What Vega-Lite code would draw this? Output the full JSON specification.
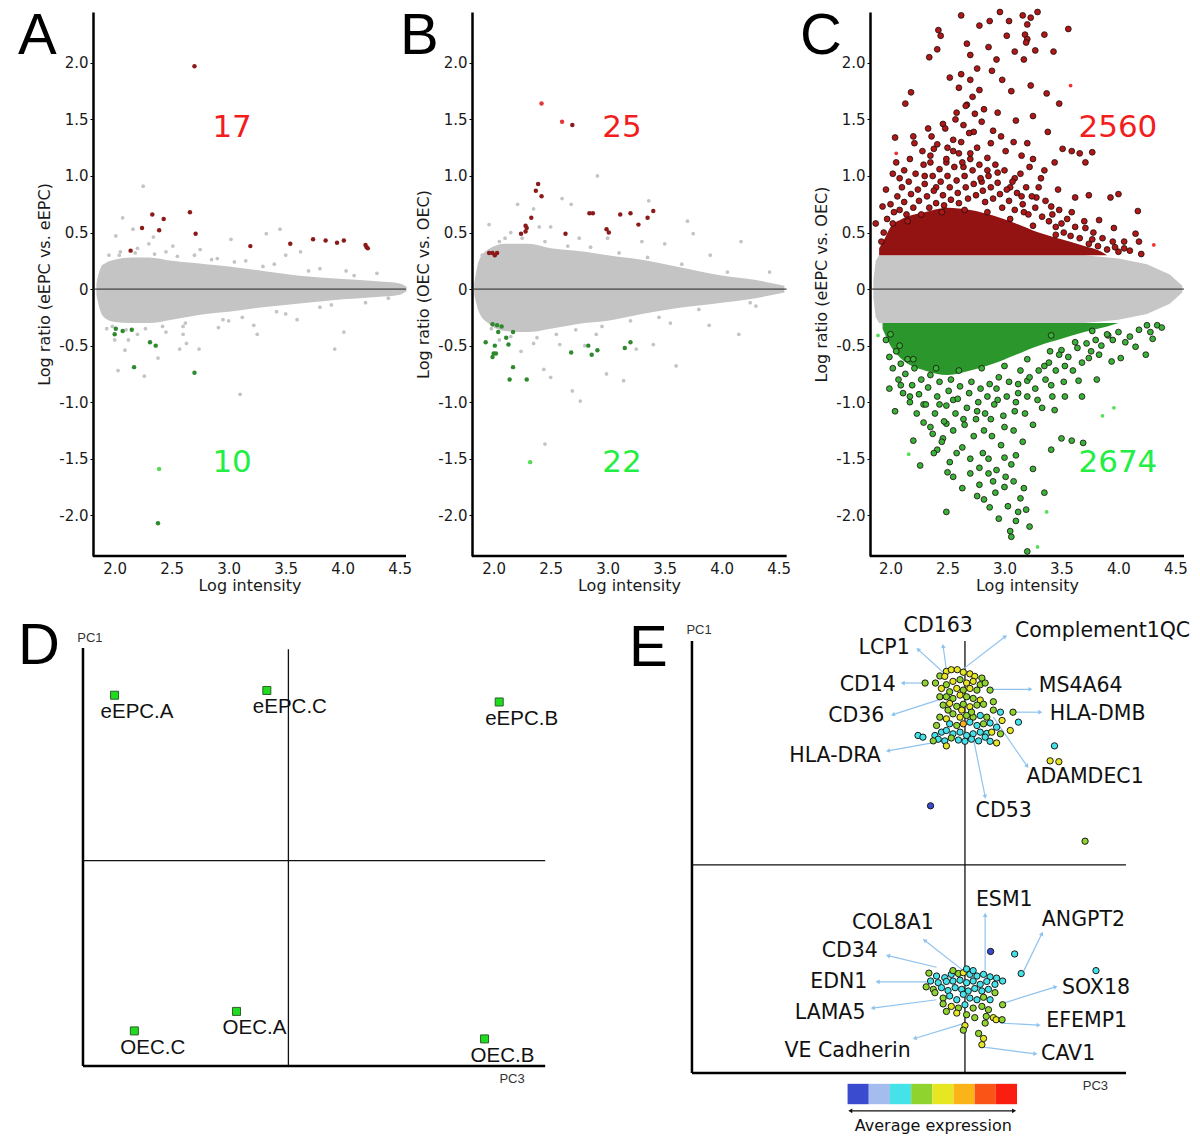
{
"$schema":"https://vega.github.io/schema/vega-lite/v6.json",
"autosize":{"type":"pad"},
"padding":{"left":18,"top":7,"right":0,"bottom":0},
"background":"white",
"config":{
 "view":{"stroke":null},
 "font":"DejaVu Sans",
 "axis":{"grid":false,"labelFont":"DejaVu Sans","titleFont":"DejaVu Sans","labelColor":"#1a1a1a","titleColor":"#1a1a1a","titleFontWeight":"normal"},
 "title":{"anchor":"start","frame":"group","offset":0,"baseline":"alphabetic","fontSize":58,"font":"Liberation Sans","fontWeight":"normal","color":"#000"},
 "text":{"font":"DejaVu Sans"}
},
"datasets":{
 "A_band":[{"x":1.84,"hi":0.05,"lo":-0.05},{"x":1.87,"hi":0.17,"lo":-0.18},{"x":1.92,"hi":0.23,"lo":-0.26},{"x":2.0,"hi":0.26,"lo":-0.29},{"x":2.15,"hi":0.28,"lo":-0.3},{"x":2.3,"hi":0.28,"lo":-0.3},{"x":2.5,"hi":0.25,"lo":-0.27},{"x":2.8,"hi":0.22,"lo":-0.22},{"x":3.0,"hi":0.2,"lo":-0.2},{"x":3.3,"hi":0.16,"lo":-0.16},{"x":3.6,"hi":0.12,"lo":-0.13},{"x":4.0,"hi":0.09,"lo":-0.09},{"x":4.3,"hi":0.07,"lo":-0.07},{"x":4.5,"hi":0.05,"lo":-0.05},{"x":4.56,"hi":0.02,"lo":-0.02}],
 "A_pts":[
  {"x":2.70,"y":1.97,"t":"u"},{"x":2.14,"y":0.34,"t":"u"},{"x":2.24,"y":0.54,"t":"u"},{"x":2.33,"y":0.66,"t":"u"},{"x":2.39,"y":0.52,"t":"u"},{"x":2.43,"y":0.62,"t":"u"},{"x":2.66,"y":0.68,"t":"u"},{"x":2.71,"y":0.49,"t":"u"},{"x":3.19,"y":0.38,"t":"u"},{"x":3.54,"y":0.40,"t":"u"},{"x":3.74,"y":0.44,"t":"u"},{"x":3.85,"y":0.43,"t":"u"},{"x":3.95,"y":0.41,"t":"u"},{"x":4.01,"y":0.43,"t":"u"},{"x":4.20,"y":0.39,"t":"u"},{"x":4.21,"y":0.37,"t":"u"},{"x":4.22,"y":0.36,"t":"u"},
  {"x":2.01,"y":-0.35,"t":"d"},{"x":2.00,"y":-0.40,"t":"d"},{"x":2.07,"y":-0.37,"t":"d"},{"x":2.15,"y":-0.36,"t":"d"},{"x":2.31,"y":-0.47,"t":"d"},{"x":2.36,"y":-0.50,"t":"d"},{"x":2.17,"y":-0.69,"t":"d"},{"x":2.70,"y":-0.74,"t":"d"},{"x":2.38,"y":-2.07,"t":"d"},{"x":2.39,"y":-1.59,"t":"df"},
  {"x":2.25,"y":0.91,"t":"g"},{"x":2.07,"y":0.63,"t":"g"},{"x":2.01,"y":0.47,"t":"g"},{"x":2.16,"y":0.53,"t":"g"},{"x":2.34,"y":0.46,"t":"g"},{"x":2.51,"y":0.38,"t":"g"},{"x":3.02,"y":0.44,"t":"g"},{"x":3.33,"y":0.49,"t":"g"},{"x":3.45,"y":0.53,"t":"g"},{"x":3.63,"y":0.33,"t":"g"},{"x":4.03,"y":0.16,"t":"g"},{"x":4.30,"y":0.14,"t":"g"},{"x":3.10,"y":-0.93,"t":"g"},{"x":4.01,"y":-0.38,"t":"g"},{"x":3.93,"y":-0.53,"t":"g"},{"x":2.03,"y":-0.72,"t":"g"},{"x":2.26,"y":-0.77,"t":"g"},{"x":2.38,"y":-0.61,"t":"g"},{"x":2.57,"y":-0.53,"t":"g"},{"x":2.74,"y":-0.53,"t":"g"},{"x":2.09,"y":-0.54,"t":"g"},{"x":2.91,"y":-0.34,"t":"g"},{"x":3.22,"y":-0.32,"t":"g"},{"x":3.60,"y":-0.27,"t":"g"},{"x":2.63,"y":-0.48,"t":"g"},{"x":1.95,"y":0.30,"t":"g"},{"x":2.05,"y":0.33,"t":"g"},{"x":2.20,"y":0.36,"t":"g"},{"x":2.45,"y":0.33,"t":"g"},{"x":2.70,"y":0.30,"t":"g"},{"x":2.90,"y":0.27,"t":"g"},{"x":3.15,"y":0.25,"t":"g"},{"x":3.40,"y":0.22,"t":"g"},{"x":3.80,"y":0.18,"t":"g"},{"x":2.60,"y":-0.33,"t":"g"},{"x":2.20,"y":-0.40,"t":"g"},{"x":2.45,"y":-0.38,"t":"g"},{"x":3.00,"y":-0.28,"t":"g"},{"x":3.50,"y":-0.22,"t":"g"},{"x":3.80,"y":-0.16,"t":"g"},{"x":4.20,"y":-0.12,"t":"g"},{"x":1.93,"y":-0.35,"t":"g"},{"x":2.75,"y":0.35,"t":"g"},{"x":3.25,"y":-0.40,"t":"g"},{"x":2.12,"y":-0.45,"t":"g"},
  {"x":1.90,"y":0.20,"t":"g"},{"x":1.98,"y":-0.33,"t":"g"},{"x":2.04,"y":0.30,"t":"g"},{"x":2.10,"y":-0.36,"t":"g"},{"x":2.18,"y":0.32,"t":"g"},{"x":2.27,"y":-0.35,"t":"g"},{"x":2.35,"y":0.31,"t":"g"},{"x":2.42,"y":-0.33,"t":"g"},{"x":2.55,"y":0.29,"t":"g"},{"x":2.62,"y":-0.30,"t":"g"},{"x":2.85,"y":0.26,"t":"g"},{"x":2.95,"y":-0.27,"t":"g"},{"x":3.05,"y":0.24,"t":"g"},{"x":3.12,"y":-0.25,"t":"g"},{"x":3.30,"y":0.20,"t":"g"},{"x":3.42,"y":-0.20,"t":"g"},{"x":3.70,"y":0.16,"t":"g"},{"x":3.90,"y":-0.14,"t":"g"},{"x":4.10,"y":0.12,"t":"g"},{"x":4.40,"y":-0.08,"t":"g"},{"x":2.30,"y":0.40,"t":"g"},{"x":2.60,"y":-0.40,"t":"g"},{"x":2.00,"y":-0.45,"t":"g"},{"x":3.50,"y":0.30,"t":"g"}
 ],
 "B_band":[{"x":1.83,"hi":0.05,"lo":-0.05},{"x":1.87,"hi":0.25,"lo":-0.2},{"x":1.95,"hi":0.35,"lo":-0.3},{"x":2.1,"hi":0.4,"lo":-0.37},{"x":2.3,"hi":0.4,"lo":-0.38},{"x":2.5,"hi":0.36,"lo":-0.35},{"x":2.8,"hi":0.33,"lo":-0.3},{"x":3.0,"hi":0.3,"lo":-0.28},{"x":3.3,"hi":0.26,"lo":-0.22},{"x":3.6,"hi":0.2,"lo":-0.17},{"x":4.0,"hi":0.12,"lo":-0.12},{"x":4.3,"hi":0.08,"lo":-0.08},{"x":4.55,"hi":0.03,"lo":-0.03}],
 "B_pts":[
  {"x":2.69,"y":1.45,"t":"u"},{"x":2.39,"y":0.93,"t":"u"},{"x":2.37,"y":0.87,"t":"u"},{"x":2.42,"y":0.82,"t":"u"},{"x":2.33,"y":0.63,"t":"u"},{"x":2.28,"y":0.56,"t":"u"},{"x":2.29,"y":0.54,"t":"u"},{"x":2.24,"y":0.49,"t":"u"},{"x":2.28,"y":0.51,"t":"u"},{"x":2.63,"y":0.49,"t":"u"},{"x":1.96,"y":0.32,"t":"u"},{"x":1.99,"y":0.32,"t":"u"},{"x":2.01,"y":0.30,"t":"u"},{"x":2.03,"y":0.32,"t":"u"},{"x":2.84,"y":0.67,"t":"u"},{"x":2.87,"y":0.67,"t":"u"},{"x":2.99,"y":0.53,"t":"u"},{"x":3.01,"y":0.50,"t":"u"},{"x":3.11,"y":0.66,"t":"u"},{"x":3.20,"y":0.67,"t":"u"},{"x":3.27,"y":0.57,"t":"u"},{"x":3.35,"y":0.63,"t":"u"},{"x":3.40,"y":0.69,"t":"u"},{"x":2.42,"y":1.64,"t":"uf"},{"x":2.60,"y":1.48,"t":"uf"},
  {"x":1.99,"y":-0.31,"t":"d"},{"x":2.03,"y":-0.32,"t":"d"},{"x":2.07,"y":-0.33,"t":"d"},{"x":2.04,"y":-0.38,"t":"d"},{"x":2.11,"y":-0.43,"t":"d"},{"x":2.17,"y":-0.38,"t":"d"},{"x":1.93,"y":-0.47,"t":"d"},{"x":2.01,"y":-0.50,"t":"d"},{"x":2.13,"y":-0.49,"t":"d"},{"x":2.02,"y":-0.57,"t":"d"},{"x":2.00,"y":-0.57,"t":"d"},{"x":1.99,"y":-0.60,"t":"d"},{"x":2.17,"y":-0.69,"t":"d"},{"x":2.14,"y":-0.80,"t":"d"},{"x":2.29,"y":-0.80,"t":"d"},{"x":2.68,"y":-0.56,"t":"d"},{"x":2.83,"y":-0.50,"t":"d"},{"x":2.86,"y":-0.58,"t":"d"},{"x":2.91,"y":-0.54,"t":"d"},{"x":3.15,"y":-0.52,"t":"d"},{"x":3.20,"y":-0.47,"t":"d"},{"x":2.32,"y":-1.53,"t":"df"},
  {"x":2.91,"y":1.00,"t":"g"},{"x":2.60,"y":0.80,"t":"g"},{"x":2.68,"y":0.75,"t":"g"},{"x":2.21,"y":0.75,"t":"g"},{"x":1.96,"y":0.57,"t":"g"},{"x":2.35,"y":0.71,"t":"g"},{"x":3.36,"y":0.78,"t":"g"},{"x":3.70,"y":0.60,"t":"g"},{"x":3.75,"y":0.49,"t":"g"},{"x":4.17,"y":0.42,"t":"g"},{"x":4.42,"y":0.15,"t":"g"},{"x":3.60,"y":-0.68,"t":"g"},{"x":3.14,"y":-0.81,"t":"g"},{"x":2.99,"y":-0.75,"t":"g"},{"x":2.76,"y":-0.99,"t":"g"},{"x":2.69,"y":-0.90,"t":"g"},{"x":2.45,"y":-1.37,"t":"g"},{"x":2.50,"y":-0.78,"t":"g"},{"x":2.44,"y":-0.71,"t":"g"},{"x":3.89,"y":-0.32,"t":"g"},{"x":4.15,"y":-0.40,"t":"g"},{"x":2.24,"y":-0.55,"t":"g"},{"x":2.58,"y":-0.49,"t":"g"},{"x":3.25,"y":-0.53,"t":"g"},{"x":3.40,"y":-0.49,"t":"g"},{"x":2.15,"y":0.50,"t":"g"},{"x":2.50,"y":0.55,"t":"g"},{"x":3.00,"y":0.45,"t":"g"},{"x":3.50,"y":0.40,"t":"g"},{"x":3.90,"y":0.30,"t":"g"},{"x":2.05,"y":-0.45,"t":"g"},{"x":2.35,"y":-0.48,"t":"g"},{"x":2.90,"y":-0.40,"t":"g"},{"x":3.55,"y":-0.30,"t":"g"},{"x":4.30,"y":-0.15,"t":"g"},{"x":2.10,"y":0.45,"t":"g"},{"x":2.75,"y":0.45,"t":"g"},
  {"x":1.90,"y":0.30,"t":"g"},{"x":1.98,"y":-0.35,"t":"g"},{"x":2.05,"y":0.42,"t":"g"},{"x":2.15,"y":-0.42,"t":"g"},{"x":2.25,"y":0.45,"t":"g"},{"x":2.38,"y":-0.43,"t":"g"},{"x":2.45,"y":0.42,"t":"g"},{"x":2.55,"y":-0.40,"t":"g"},{"x":2.65,"y":0.38,"t":"g"},{"x":2.72,"y":-0.36,"t":"g"},{"x":2.85,"y":0.37,"t":"g"},{"x":2.95,"y":-0.33,"t":"g"},{"x":3.10,"y":0.32,"t":"g"},{"x":3.20,"y":-0.28,"t":"g"},{"x":3.35,"y":0.28,"t":"g"},{"x":3.45,"y":-0.25,"t":"g"},{"x":3.65,"y":0.22,"t":"g"},{"x":3.80,"y":-0.18,"t":"g"},{"x":4.05,"y":0.15,"t":"g"},{"x":4.25,"y":-0.12,"t":"g"},{"x":2.40,"y":0.55,"t":"g"},{"x":2.80,"y":-0.50,"t":"g"},{"x":3.30,"y":0.42,"t":"g"}
 ],
 "C_band":[{"x":1.85,"hi":0.08,"lo":-0.08},{"x":1.87,"hi":0.25,"lo":-0.25},{"x":1.9,"hi":0.3,"lo":-0.3},{"x":3.7,"hi":0.3,"lo":-0.3},{"x":4.0,"hi":0.27,"lo":-0.27},{"x":4.25,"hi":0.22,"lo":-0.22},{"x":4.45,"hi":0.13,"lo":-0.13},{"x":4.56,"hi":0.03,"lo":-0.03}],
 "C_up":[{"x":1.9,"lo":0.3,"hi":0.36},{"x":1.95,"lo":0.3,"hi":0.45},{"x":2.0,"lo":0.3,"hi":0.55},{"x":2.1,"lo":0.3,"hi":0.62},{"x":2.3,"lo":0.3,"hi":0.68},{"x":2.5,"lo":0.3,"hi":0.72},{"x":2.7,"lo":0.3,"hi":0.7},{"x":2.9,"lo":0.3,"hi":0.65},{"x":3.1,"lo":0.3,"hi":0.58},{"x":3.3,"lo":0.3,"hi":0.5},{"x":3.5,"lo":0.3,"hi":0.44},{"x":3.7,"lo":0.3,"hi":0.38},{"x":3.85,"lo":0.3,"hi":0.33},{"x":3.9,"lo":0.3,"hi":0.3}],
 "C_dn":[{"x":1.93,"hi":-0.3,"lo":-0.35},{"x":2.0,"hi":-0.3,"lo":-0.5},{"x":2.1,"hi":-0.3,"lo":-0.62},{"x":2.3,"hi":-0.3,"lo":-0.72},{"x":2.5,"hi":-0.3,"lo":-0.76},{"x":2.7,"hi":-0.3,"lo":-0.72},{"x":2.9,"hi":-0.3,"lo":-0.66},{"x":3.1,"hi":-0.3,"lo":-0.58},{"x":3.3,"hi":-0.3,"lo":-0.5},{"x":3.5,"hi":-0.3,"lo":-0.44},{"x":3.7,"hi":-0.3,"lo":-0.38},{"x":3.9,"hi":-0.3,"lo":-0.33},{"x":4.0,"hi":-0.3,"lo":-0.3}],
 "C_pts":[
  {"x":2.62,"y":2.42,"t":"u"},{"x":2.96,"y":2.45,"t":"u"},{"x":2.87,"y":2.37,"t":"u"},{"x":3.04,"y":2.37,"t":"u"},{"x":3.16,"y":2.42,"t":"u"},{"x":3.23,"y":2.40,"t":"u"},{"x":3.29,"y":2.45,"t":"u"},{"x":3.20,"y":2.34,"t":"u"},{"x":3.18,"y":2.25,"t":"u"},{"x":3.20,"y":2.21,"t":"u"},{"x":3.19,"y":2.18,"t":"u"},{"x":3.35,"y":2.25,"t":"u"},{"x":3.56,"y":2.30,"t":"u"},{"x":3.43,"y":2.10,"t":"u"},{"x":2.42,"y":2.29,"t":"u"},{"x":2.44,"y":2.24,"t":"u"},{"x":2.41,"y":2.12,"t":"u"},{"x":2.34,"y":2.05,"t":"u"},{"x":2.67,"y":2.17,"t":"u"},{"x":2.70,"y":2.07,"t":"u"},{"x":2.78,"y":2.33,"t":"u"},{"x":2.86,"y":2.14,"t":"u"},{"x":2.93,"y":2.03,"t":"u"},{"x":3.02,"y":2.24,"t":"u"},{"x":3.09,"y":2.10,"t":"u"},{"x":3.17,"y":2.03,"t":"u"},{"x":3.27,"y":2.11,"t":"u"},{"x":2.52,"y":1.87,"t":"u"},{"x":2.62,"y":1.90,"t":"u"},{"x":2.70,"y":1.85,"t":"u"},{"x":2.78,"y":1.76,"t":"u"},{"x":2.89,"y":1.93,"t":"u"},{"x":2.98,"y":1.85,"t":"u"},{"x":3.06,"y":1.75,"t":"u"},{"x":3.23,"y":1.80,"t":"u"},{"x":3.37,"y":1.73,"t":"u"},{"x":3.48,"y":1.64,"t":"u"},{"x":3.25,"y":1.53,"t":"u"},{"x":3.10,"y":1.49,"t":"u"},{"x":2.94,"y":1.56,"t":"u"},{"x":2.82,"y":1.59,"t":"u"},{"x":2.67,"y":1.63,"t":"u"},{"x":2.58,"y":1.56,"t":"u"},{"x":2.46,"y":1.46,"t":"u"},{"x":2.33,"y":1.42,"t":"u"},{"x":2.18,"y":1.74,"t":"u"},{"x":2.13,"y":1.64,"t":"u"},{"x":2.04,"y":1.34,"t":"u"},{"x":2.21,"y":1.29,"t":"u"},{"x":2.38,"y":1.24,"t":"u"},{"x":2.55,"y":1.32,"t":"u"},{"x":2.73,"y":1.39,"t":"u"},{"x":2.88,"y":1.29,"t":"u"},{"x":3.01,"y":1.22,"t":"u"},{"x":3.20,"y":1.29,"t":"u"},{"x":3.38,"y":1.39,"t":"u"},{"x":3.51,"y":1.24,"t":"u"},{"x":3.59,"y":1.22,"t":"u"},{"x":3.66,"y":1.20,"t":"u"},{"x":3.71,"y":1.12,"t":"u"},{"x":3.77,"y":1.21,"t":"u"},{"x":3.44,"y":1.12,"t":"u"},{"x":3.32,"y":0.98,"t":"u"},{"x":3.22,"y":1.08,"t":"u"},{"x":3.09,"y":0.98,"t":"u"},{"x":2.94,"y":1.03,"t":"u"},{"x":2.80,"y":0.95,"t":"u"},{"x":2.64,"y":1.08,"t":"u"},{"x":2.49,"y":1.12,"t":"u"},{"x":2.35,"y":1.12,"t":"u"},{"x":2.17,"y":1.15,"t":"u"},{"x":2.05,"y":1.12,"t":"u"},{"x":2.02,"y":1.02,"t":"u"},{"x":2.08,"y":0.98,"t":"u"},{"x":3.47,"y":0.88,"t":"u"},{"x":3.62,"y":0.81,"t":"u"},{"x":3.74,"y":0.83,"t":"u"},{"x":3.93,"y":0.81,"t":"u"},{"x":4.00,"y":0.84,"t":"u"},{"x":3.83,"y":0.61,"t":"u"},{"x":3.96,"y":0.54,"t":"u"},{"x":4.05,"y":0.42,"t":"u"},{"x":4.15,"y":0.49,"t":"u"},{"x":4.17,"y":0.69,"t":"u"},{"x":4.18,"y":0.42,"t":"u"},{"x":3.97,"y":0.37,"t":"u"},{"x":3.77,"y":0.44,"t":"u"},{"x":3.71,"y":0.54,"t":"u"},{"x":3.59,"y":0.68,"t":"u"},{"x":3.50,"y":0.58,"t":"u"},{"x":3.41,"y":0.73,"t":"u"},{"x":3.28,"y":0.81,"t":"u"},{"x":3.17,"y":0.68,"t":"u"},{"x":1.87,"y":0.58,"t":"u"},{"x":1.96,"y":0.88,"t":"u"},{"x":1.93,"y":0.73,"t":"u"},{"x":2.30,"y":1.00,"t":"u"},{"x":2.60,"y":1.20,"t":"u"},{"x":2.70,"y":1.15,"t":"u"},{"x":2.50,"y":1.25,"t":"u"},{"x":2.85,"y":1.05,"t":"u"},{"x":3.05,"y":0.90,"t":"u"},{"x":3.15,"y":0.82,"t":"u"},{"x":2.40,"y":0.90,"t":"u"},
  {"x":1.97,"y":0.62,"t":"u"},{"x":2.00,"y":0.75,"t":"u"},{"x":2.03,"y":0.68,"t":"u"},{"x":2.06,"y":0.82,"t":"u"},{"x":2.08,"y":0.70,"t":"u"},{"x":2.10,"y":0.90,"t":"u"},{"x":2.12,"y":0.77,"t":"u"},{"x":2.14,"y":0.66,"t":"u"},{"x":2.16,"y":0.95,"t":"u"},{"x":2.18,"y":0.84,"t":"u"},{"x":2.20,"y":0.72,"t":"u"},{"x":2.22,"y":1.02,"t":"u"},{"x":2.24,"y":0.88,"t":"u"},{"x":2.25,"y":0.78,"t":"u"},{"x":2.27,"y":0.66,"t":"u"},{"x":2.29,"y":1.10,"t":"u"},{"x":2.30,"y":0.93,"t":"u"},{"x":2.32,"y":0.82,"t":"u"},{"x":2.34,"y":0.72,"t":"u"},{"x":2.35,"y":1.18,"t":"u"},{"x":2.37,"y":1.00,"t":"u"},{"x":2.38,"y":0.87,"t":"u"},{"x":2.40,"y":0.76,"t":"u"},{"x":2.41,"y":1.28,"t":"u"},{"x":2.43,"y":1.06,"t":"u"},{"x":2.44,"y":0.95,"t":"u"},{"x":2.46,"y":0.83,"t":"u"},{"x":2.47,"y":0.74,"t":"u"},{"x":2.49,"y":1.15,"t":"u"},{"x":2.50,"y":1.00,"t":"u"},{"x":2.52,"y":0.90,"t":"u"},{"x":2.53,"y":0.79,"t":"u"},{"x":2.55,"y":1.22,"t":"u"},{"x":2.56,"y":1.08,"t":"u"},{"x":2.58,"y":0.96,"t":"u"},{"x":2.59,"y":0.85,"t":"u"},{"x":2.60,"y":0.76,"t":"u"},{"x":2.62,"y":1.30,"t":"u"},{"x":2.63,"y":1.12,"t":"u"},{"x":2.65,"y":1.00,"t":"u"},{"x":2.66,"y":0.90,"t":"u"},{"x":2.68,"y":0.80,"t":"u"},{"x":2.69,"y":1.38,"t":"u"},{"x":2.70,"y":1.20,"t":"u"},{"x":2.72,"y":1.05,"t":"u"},{"x":2.73,"y":0.93,"t":"u"},{"x":2.75,"y":0.83,"t":"u"},{"x":2.76,"y":1.25,"t":"u"},{"x":2.78,"y":1.10,"t":"u"},{"x":2.79,"y":0.98,"t":"u"},{"x":2.81,"y":0.87,"t":"u"},{"x":2.83,"y":0.77,"t":"u"},{"x":2.85,"y":1.16,"t":"u"},{"x":2.86,"y":1.00,"t":"u"},{"x":2.88,"y":0.90,"t":"u"},{"x":2.90,"y":0.80,"t":"u"},{"x":2.92,"y":1.10,"t":"u"},{"x":2.94,"y":0.94,"t":"u"},{"x":2.96,"y":0.84,"t":"u"},{"x":2.98,"y":0.72,"t":"u"},{"x":3.00,"y":1.05,"t":"u"},{"x":3.02,"y":0.88,"t":"u"},{"x":3.04,"y":0.78,"t":"u"},{"x":3.07,"y":0.95,"t":"u"},{"x":3.09,"y":0.70,"t":"u"},{"x":3.11,"y":0.85,"t":"u"},{"x":3.14,"y":1.02,"t":"u"},{"x":3.16,"y":0.75,"t":"u"},{"x":3.19,"y":0.90,"t":"u"},{"x":3.21,"y":0.66,"t":"u"},{"x":3.24,"y":0.82,"t":"u"},{"x":3.27,"y":0.72,"t":"u"},{"x":3.30,"y":0.90,"t":"u"},{"x":3.33,"y":0.64,"t":"u"},{"x":3.36,"y":0.78,"t":"u"},{"x":3.39,"y":0.60,"t":"u"},{"x":3.42,"y":0.66,"t":"u"},{"x":3.45,"y":0.55,"t":"u"},{"x":3.48,"y":0.70,"t":"u"},{"x":3.52,"y":0.50,"t":"u"},{"x":3.55,"y":0.62,"t":"u"},{"x":3.58,"y":0.47,"t":"u"},{"x":3.62,"y":0.55,"t":"u"},{"x":3.66,"y":0.45,"t":"u"},{"x":3.70,"y":0.60,"t":"u"},{"x":3.74,"y":0.40,"t":"u"},{"x":3.78,"y":0.50,"t":"u"},{"x":3.82,"y":0.38,"t":"u"},{"x":3.86,"y":0.45,"t":"u"},{"x":3.90,"y":0.35,"t":"u"},{"x":3.95,"y":0.42,"t":"u"},{"x":4.00,"y":0.33,"t":"u"},{"x":4.05,"y":0.36,"t":"u"},{"x":4.10,"y":0.34,"t":"u"},{"x":4.20,"y":0.31,"t":"u"},{"x":1.92,"y":0.42,"t":"u"},{"x":1.94,"y":0.50,"t":"u"},{"x":2.02,"y":0.58,"t":"u"},{"x":2.15,"y":0.60,"t":"u"},{"x":2.45,"y":0.68,"t":"u"},{"x":2.65,"y":0.70,"t":"u"},{"x":2.85,"y":0.68,"t":"u"},{"x":3.05,"y":0.62,"t":"u"},{"x":3.25,"y":0.56,"t":"u"},{"x":3.45,"y":0.48,"t":"u"},{"x":2.36,"y":1.35,"t":"u"},{"x":2.48,"y":1.42,"t":"u"},{"x":2.57,"y":1.50,"t":"u"},{"x":2.64,"y":1.45,"t":"u"},{"x":2.74,"y":1.55,"t":"u"},{"x":2.80,"y":1.48,"t":"u"},{"x":2.90,"y":1.40,"t":"u"},{"x":2.97,"y":1.35,"t":"u"},{"x":3.08,"y":1.30,"t":"u"},{"x":3.15,"y":1.18,"t":"u"},{"x":3.25,"y":1.15,"t":"u"},{"x":3.35,"y":1.05,"t":"u"},{"x":2.28,"y":1.22,"t":"u"},{"x":2.20,"y":1.35,"t":"u"},{"x":2.12,"y":1.05,"t":"u"},{"x":2.66,"y":1.62,"t":"u"},{"x":2.72,"y":1.70,"t":"u"},{"x":2.60,"y":1.78,"t":"u"},{"x":2.76,"y":1.95,"t":"u"},
  {"x":4.31,"y":0.39,"t":"uf"},{"x":3.58,"y":1.80,"t":"uf"},{"x":2.05,"y":1.20,"t":"uf"},
  {"x":2.04,"y":-1.08,"t":"d"},{"x":2.20,"y":-1.34,"t":"d"},{"x":2.26,"y":-1.56,"t":"d"},{"x":2.35,"y":-1.22,"t":"d"},{"x":2.41,"y":-1.42,"t":"d"},{"x":2.46,"y":-1.32,"t":"d"},{"x":2.52,"y":-1.53,"t":"d"},{"x":2.55,"y":-1.66,"t":"d"},{"x":2.63,"y":-1.76,"t":"d"},{"x":2.70,"y":-1.63,"t":"d"},{"x":2.76,"y":-1.83,"t":"d"},{"x":2.78,"y":-1.73,"t":"d"},{"x":2.82,"y":-1.86,"t":"d"},{"x":2.86,"y":-1.63,"t":"d"},{"x":2.87,"y":-1.93,"t":"d"},{"x":2.92,"y":-1.80,"t":"d"},{"x":2.95,"y":-2.03,"t":"d"},{"x":3.00,"y":-1.49,"t":"d"},{"x":3.01,"y":-1.66,"t":"d"},{"x":3.03,"y":-1.92,"t":"d"},{"x":3.05,"y":-2.14,"t":"d"},{"x":3.06,"y":-2.19,"t":"d"},{"x":3.10,"y":-1.47,"t":"d"},{"x":3.12,"y":-1.97,"t":"d"},{"x":3.17,"y":-1.76,"t":"d"},{"x":3.19,"y":-1.95,"t":"d"},{"x":3.20,"y":-2.32,"t":"d"},{"x":3.25,"y":-1.59,"t":"d"},{"x":3.35,"y":-1.80,"t":"d"},{"x":3.41,"y":-1.42,"t":"d"},{"x":3.44,"y":-1.07,"t":"d"},{"x":3.50,"y":-1.32,"t":"d"},{"x":3.59,"y":-1.34,"t":"d"},{"x":3.69,"y":-1.36,"t":"d"},{"x":3.65,"y":-0.81,"t":"d"},{"x":3.81,"y":-0.80,"t":"d"},{"x":3.68,"y":-0.95,"t":"d"},{"x":3.53,"y":-0.95,"t":"d"},{"x":3.41,"y":-0.85,"t":"d"},{"x":3.29,"y":-0.98,"t":"d"},{"x":3.20,"y":-0.81,"t":"d"},{"x":3.09,"y":-1.08,"t":"d"},{"x":3.00,"y":-1.22,"t":"d"},{"x":2.88,"y":-1.15,"t":"d"},{"x":2.76,"y":-1.08,"t":"d"},{"x":2.64,"y":-1.15,"t":"d"},{"x":2.55,"y":-0.98,"t":"d"},{"x":2.49,"y":-1.19,"t":"d"},{"x":2.43,"y":-1.02,"t":"d"},{"x":2.29,"y":-1.02,"t":"d"},{"x":2.17,"y":-0.95,"t":"d"},{"x":2.09,"y":-0.85,"t":"d"},{"x":1.99,"y":-0.88,"t":"d"},{"x":3.74,"y":-0.61,"t":"d"},{"x":3.83,"y":-0.58,"t":"d"},{"x":3.94,"y":-0.64,"t":"d"},{"x":4.02,"y":-0.61,"t":"d"},{"x":4.15,"y":-0.51,"t":"d"},{"x":4.24,"y":-0.58,"t":"d"},{"x":4.30,"y":-0.44,"t":"d"},{"x":4.06,"y":-0.47,"t":"d"},{"x":3.91,"y":-0.41,"t":"d"},{"x":3.77,"y":-0.37,"t":"d"},{"x":4.25,"y":-0.32,"t":"d"},{"x":4.34,"y":-0.32,"t":"d"},{"x":3.62,"y":-0.47,"t":"d"},{"x":3.50,"y":-0.54,"t":"d"},{"x":3.41,"y":-0.41,"t":"d"},{"x":2.82,"y":-1.25,"t":"d"},{"x":2.94,"y":-0.98,"t":"d"},{"x":3.12,"y":-0.92,"t":"d"},{"x":3.35,"y":-0.68,"t":"d"},{"x":3.53,"y":-0.68,"t":"d"},{"x":2.49,"y":-1.97,"t":"d"},
  {"x":1.96,"y":-0.45,"t":"d"},{"x":1.99,"y":-0.60,"t":"d"},{"x":2.02,"y":-0.70,"t":"d"},{"x":2.05,"y":-0.55,"t":"d"},{"x":2.07,"y":-0.80,"t":"d"},{"x":2.09,"y":-0.66,"t":"d"},{"x":2.11,"y":-0.92,"t":"d"},{"x":2.13,"y":-0.75,"t":"d"},{"x":2.15,"y":-0.62,"t":"d"},{"x":2.17,"y":-1.00,"t":"d"},{"x":2.19,"y":-0.85,"t":"d"},{"x":2.21,"y":-0.70,"t":"d"},{"x":2.23,"y":-1.10,"t":"d"},{"x":2.25,"y":-0.93,"t":"d"},{"x":2.27,"y":-0.80,"t":"d"},{"x":2.29,"y":-1.18,"t":"d"},{"x":2.31,"y":-1.02,"t":"d"},{"x":2.33,"y":-0.87,"t":"d"},{"x":2.35,"y":-0.76,"t":"d"},{"x":2.37,"y":-1.28,"t":"d"},{"x":2.39,"y":-1.10,"t":"d"},{"x":2.41,"y":-0.95,"t":"d"},{"x":2.43,"y":-0.82,"t":"d"},{"x":2.45,"y":-1.35,"t":"d"},{"x":2.47,"y":-1.17,"t":"d"},{"x":2.49,"y":-1.03,"t":"d"},{"x":2.51,"y":-0.90,"t":"d"},{"x":2.53,"y":-0.80,"t":"d"},{"x":2.55,"y":-1.25,"t":"d"},{"x":2.57,"y":-1.10,"t":"d"},{"x":2.59,"y":-0.97,"t":"d"},{"x":2.61,"y":-0.86,"t":"d"},{"x":2.63,"y":-1.40,"t":"d"},{"x":2.65,"y":-1.20,"t":"d"},{"x":2.67,"y":-1.05,"t":"d"},{"x":2.69,"y":-0.92,"t":"d"},{"x":2.71,"y":-0.82,"t":"d"},{"x":2.73,"y":-1.30,"t":"d"},{"x":2.75,"y":-1.15,"t":"d"},{"x":2.77,"y":-1.00,"t":"d"},{"x":2.79,"y":-0.88,"t":"d"},{"x":2.81,"y":-1.45,"t":"d"},{"x":2.83,"y":-1.10,"t":"d"},{"x":2.85,"y":-0.95,"t":"d"},{"x":2.87,"y":-0.84,"t":"d"},{"x":2.89,"y":-1.30,"t":"d"},{"x":2.91,"y":-1.02,"t":"d"},{"x":2.93,"y":-0.88,"t":"d"},{"x":2.95,"y":-0.78,"t":"d"},{"x":2.97,"y":-1.38,"t":"d"},{"x":2.99,"y":-1.12,"t":"d"},{"x":3.02,"y":-0.95,"t":"d"},{"x":3.04,"y":-0.82,"t":"d"},{"x":3.06,"y":-1.55,"t":"d"},{"x":3.08,"y":-1.25,"t":"d"},{"x":3.10,"y":-1.00,"t":"d"},{"x":3.12,"y":-0.84,"t":"d"},{"x":3.14,"y":-0.72,"t":"d"},{"x":3.16,"y":-1.35,"t":"d"},{"x":3.18,"y":-1.10,"t":"d"},{"x":3.20,"y":-0.95,"t":"d"},{"x":3.22,"y":-0.78,"t":"d"},{"x":3.25,"y":-1.20,"t":"d"},{"x":3.27,"y":-0.88,"t":"d"},{"x":3.30,"y":-0.72,"t":"d"},{"x":3.33,"y":-1.05,"t":"d"},{"x":3.36,"y":-0.80,"t":"d"},{"x":3.39,"y":-0.65,"t":"d"},{"x":3.42,"y":-0.95,"t":"d"},{"x":3.45,"y":-0.72,"t":"d"},{"x":3.48,"y":-0.58,"t":"d"},{"x":3.52,"y":-0.82,"t":"d"},{"x":3.56,"y":-0.60,"t":"d"},{"x":3.60,"y":-0.72,"t":"d"},{"x":3.64,"y":-0.52,"t":"d"},{"x":3.68,"y":-0.65,"t":"d"},{"x":3.72,"y":-0.48,"t":"d"},{"x":3.76,"y":-0.55,"t":"d"},{"x":3.80,"y":-0.45,"t":"d"},{"x":3.85,"y":-0.50,"t":"d"},{"x":3.90,"y":-0.40,"t":"d"},{"x":3.95,"y":-0.45,"t":"d"},{"x":4.00,"y":-0.38,"t":"d"},{"x":4.10,"y":-0.42,"t":"d"},{"x":4.18,"y":-0.36,"t":"d"},{"x":4.28,"y":-0.38,"t":"d"},{"x":4.38,"y":-0.34,"t":"d"},{"x":2.00,"y":-0.40,"t":"d"},{"x":2.08,"y":-0.50,"t":"d"},{"x":2.20,"y":-0.62,"t":"d"},{"x":2.40,"y":-0.70,"t":"d"},{"x":2.60,"y":-0.72,"t":"d"},{"x":2.80,"y":-0.70,"t":"d"},{"x":3.00,"y":-0.68,"t":"d"},{"x":3.20,"y":-0.62,"t":"d"},{"x":3.40,"y":-0.55,"t":"d"},{"x":2.70,"y":-1.50,"t":"d"},{"x":2.78,"y":-1.58,"t":"d"},{"x":2.86,"y":-1.50,"t":"d"},{"x":2.93,"y":-1.60,"t":"d"},{"x":3.00,"y":-1.75,"t":"d"},{"x":3.08,"y":-1.70,"t":"d"},{"x":3.14,"y":-1.85,"t":"d"},{"x":3.10,"y":-2.05,"t":"d"},{"x":3.22,"y":-2.10,"t":"d"},{"x":2.90,"y":-1.70,"t":"d"},{"x":2.58,"y":-1.45,"t":"d"},{"x":2.50,"y":-1.62,"t":"d"},{"x":2.38,"y":-1.45,"t":"d"},
  {"x":3.37,"y":-1.97,"t":"df"},{"x":3.96,"y":-1.05,"t":"df"},{"x":3.86,"y":-1.12,"t":"df"},{"x":1.89,"y":-0.41,"t":"df"},{"x":2.16,"y":-1.46,"t":"df"},{"x":3.29,"y":-2.28,"t":"df"}
 ],
 "D_pts":[{"s":"eEPC.A","x":-0.677,"y":0.806},{"s":"eEPC.C","x":-0.084,"y":0.829},{"s":"eEPC.B","x":0.821,"y":0.773},{"s":"OEC.A","x":-0.202,"y":-0.734},{"s":"OEC.C","x":-0.6,"y":-0.829},{"s":"OEC.B","x":0.764,"y":-0.868}],
 "E_pts":[
  {"x":-0.34,"y":4.65,"c":"y"},{"x":-0.25,"y":4.69,"c":"y"},{"x":-0.14,"y":4.69,"c":"y"},{"x":-0.03,"y":4.63,"c":"y"},{"x":0.09,"y":4.59,"c":"y"},{"x":0.18,"y":4.53,"c":"y"},{"x":0.31,"y":4.49,"c":"g"},{"x":-0.46,"y":4.54,"c":"g"},{"x":-0.37,"y":4.53,"c":"y"},{"x":-0.54,"y":4.37,"c":"g"},{"x":-0.73,"y":4.37,"c":"g"},{"x":-0.34,"y":4.33,"c":"g"},{"x":-0.22,"y":4.41,"c":"y"},{"x":-0.09,"y":4.45,"c":"g"},{"x":0.03,"y":4.37,"c":"y"},{"x":0.15,"y":4.41,"c":"y"},{"x":0.28,"y":4.33,"c":"g"},{"x":0.37,"y":4.37,"c":"g"},{"x":0.46,"y":4.20,"c":"g"},{"x":-0.43,"y":4.24,"c":"y"},{"x":-0.28,"y":4.16,"c":"g"},{"x":-0.15,"y":4.24,"c":"y"},{"x":-0.03,"y":4.20,"c":"g"},{"x":0.09,"y":4.24,"c":"y"},{"x":0.22,"y":4.20,"c":"g"},{"x":-0.46,"y":4.04,"c":"g"},{"x":-0.34,"y":4.04,"c":"g"},{"x":-0.22,"y":4.00,"c":"g"},{"x":-0.09,"y":4.08,"c":"y"},{"x":0.03,"y":4.04,"c":"g"},{"x":0.15,"y":4.00,"c":"g"},{"x":0.28,"y":3.96,"c":"y"},{"x":-0.40,"y":3.84,"c":"g"},{"x":-0.28,"y":3.88,"c":"y"},{"x":-0.15,"y":3.81,"c":"g"},{"x":-0.03,"y":3.86,"c":"g"},{"x":0.09,"y":3.80,"c":"y"},{"x":0.22,"y":3.84,"c":"g"},{"x":0.34,"y":3.86,"c":"g"},{"x":0.52,"y":3.72,"c":"g"},{"x":0.65,"y":3.67,"c":"c"},{"x":0.88,"y":3.67,"c":"g"},{"x":-0.46,"y":3.55,"c":"g"},{"x":-0.34,"y":3.51,"c":"y"},{"x":-0.22,"y":3.63,"c":"g"},{"x":-0.09,"y":3.55,"c":"y"},{"x":0.03,"y":3.59,"c":"g"},{"x":0.15,"y":3.55,"c":"g"},{"x":0.28,"y":3.59,"c":"c"},{"x":0.40,"y":3.55,"c":"g"},{"x":0.68,"y":3.47,"c":"y"},{"x":0.98,"y":3.43,"c":"c"},{"x":-0.28,"y":3.39,"c":"c"},{"x":-0.15,"y":3.35,"c":"g"},{"x":-0.03,"y":3.39,"c":"o"},{"x":0.09,"y":3.43,"c":"c"},{"x":0.22,"y":3.35,"c":"c"},{"x":0.34,"y":3.39,"c":"g"},{"x":0.46,"y":3.41,"c":"c"},{"x":-0.86,"y":3.11,"c":"c"},{"x":-0.77,"y":3.07,"c":"c"},{"x":-0.55,"y":3.11,"c":"c"},{"x":-0.43,"y":3.19,"c":"c"},{"x":-0.34,"y":3.23,"c":"c"},{"x":-0.22,"y":3.15,"c":"c"},{"x":-0.09,"y":3.19,"c":"c"},{"x":0.03,"y":3.11,"c":"c"},{"x":0.15,"y":3.15,"c":"c"},{"x":0.28,"y":3.19,"c":"c"},{"x":0.40,"y":3.16,"c":"c"},{"x":0.49,"y":3.19,"c":"y"},{"x":0.83,"y":3.23,"c":"y"},{"x":-0.49,"y":3.02,"c":"c"},{"x":-0.37,"y":2.98,"c":"c"},{"x":-0.25,"y":3.05,"c":"g"},{"x":-0.12,"y":3.00,"c":"c"},{"x":0.0,"y":2.97,"c":"c"},{"x":0.12,"y":3.02,"c":"c"},{"x":0.25,"y":2.98,"c":"c"},{"x":0.37,"y":3.07,"c":"c"},{"x":0.46,"y":2.97,"c":"c"},{"x":0.58,"y":2.93,"c":"y"},{"x":-0.34,"y":2.86,"c":"y"},{"x":-0.58,"y":2.98,"c":"g"},{"x":-0.31,"y":3.72,"c":"g"},{"x":-0.06,"y":3.72,"c":"y"},{"x":0.12,"y":3.67,"c":"g"},{"x":-0.52,"y":3.35,"c":"g"},{"x":0.58,"y":3.31,"c":"c"},{"x":0.65,"y":3.15,"c":"g"},{"x":0.52,"y":3.92,"c":"g"},
  {"x":1.64,"y":2.86,"c":"c"},{"x":1.56,"y":2.50,"c":"y"},{"x":1.72,"y":2.48,"c":"y"},{"x":-0.63,"y":1.42,"c":"b"},{"x":2.20,"y":0.57,"c":"g"},
  {"x":-0.66,"y":-2.60,"c":"g"},{"x":-0.52,"y":-2.67,"c":"c"},{"x":-0.37,"y":-2.71,"c":"c"},{"x":-0.25,"y":-2.63,"c":"c"},{"x":-0.12,"y":-2.61,"c":"g"},{"x":-0.03,"y":-2.59,"c":"y"},{"x":0.09,"y":-2.63,"c":"c"},{"x":0.22,"y":-2.67,"c":"c"},{"x":0.34,"y":-2.63,"c":"c"},{"x":0.46,"y":-2.69,"c":"c"},{"x":0.58,"y":-2.72,"c":"c"},{"x":0.69,"y":-2.79,"c":"c"},{"x":-0.63,"y":-2.79,"c":"c"},{"x":-0.49,"y":-2.83,"c":"c"},{"x":-0.34,"y":-2.80,"c":"c"},{"x":-0.22,"y":-2.79,"c":"c"},{"x":-0.09,"y":-2.77,"c":"c"},{"x":0.03,"y":-2.83,"c":"c"},{"x":0.15,"y":-2.79,"c":"c"},{"x":0.28,"y":-2.87,"c":"c"},{"x":0.40,"y":-2.80,"c":"c"},{"x":0.55,"y":-2.87,"c":"c"},{"x":-0.71,"y":-2.93,"c":"g"},{"x":-0.58,"y":-2.99,"c":"g"},{"x":-0.43,"y":-2.95,"c":"c"},{"x":-0.31,"y":-3.02,"c":"c"},{"x":-0.18,"y":-2.95,"c":"c"},{"x":-0.06,"y":-2.99,"c":"c"},{"x":0.06,"y":-3.03,"c":"c"},{"x":0.18,"y":-2.97,"c":"c"},{"x":0.31,"y":-3.03,"c":"c"},{"x":0.43,"y":-2.99,"c":"c"},{"x":0.55,"y":-3.07,"c":"g"},{"x":-0.55,"y":-3.07,"c":"g"},{"x":-0.40,"y":-3.20,"c":"g"},{"x":-0.28,"y":-3.15,"c":"c"},{"x":-0.15,"y":-3.24,"c":"c"},{"x":-0.03,"y":-3.11,"c":"c"},{"x":0.09,"y":-3.20,"c":"c"},{"x":0.22,"y":-3.24,"c":"c"},{"x":0.34,"y":-3.18,"c":"g"},{"x":0.46,"y":-3.24,"c":"c"},{"x":0.69,"y":-3.36,"c":"g"},{"x":-0.40,"y":-3.34,"c":"g"},{"x":-0.25,"y":-3.40,"c":"y"},{"x":-0.12,"y":-3.44,"c":"g"},{"x":0.0,"y":-3.36,"c":"c"},{"x":0.15,"y":-3.44,"c":"g"},{"x":0.31,"y":-3.40,"c":"g"},{"x":0.43,"y":-3.48,"c":"g"},{"x":-0.34,"y":-3.52,"c":"g"},{"x":-0.15,"y":-3.56,"c":"y"},{"x":0.03,"y":-3.60,"c":"g"},{"x":0.18,"y":-3.67,"c":"g"},{"x":0.39,"y":-3.64,"c":"g"},{"x":0.52,"y":-3.67,"c":"y"},{"x":0.57,"y":-3.72,"c":"y"},{"x":0.68,"y":-3.72,"c":"g"},{"x":0.0,"y":-3.86,"c":"y"},{"x":-0.03,"y":-3.97,"c":"g"},{"x":0.25,"y":-4.05,"c":"g"},{"x":0.37,"y":-3.80,"c":"g"},{"x":0.34,"y":-4.17,"c":"y"},{"x":0.31,"y":-4.32,"c":"y"},{"x":-0.22,"y":-2.54,"c":"g"},{"x":0.15,"y":-2.54,"c":"c"},{"x":0.03,"y":-2.50,"c":"c"},
  {"x":0.47,"y":-2.08,"c":"b"},{"x":0.91,"y":-2.14,"c":"c"},{"x":1.03,"y":-2.61,"c":"c"},{"x":2.40,"y":-2.54,"c":"c"}
 ],
 "E_genes":[
  {"g":"CD163","lx":-0.49,"ly":5.75,"x1":-0.34,"y1":4.69,"x2":-0.40,"y2":5.26},
  {"g":"LCP1","lx":-1.48,"ly":5.22,"x1":-0.40,"y1":4.63,"x2":-0.86,"y2":5.18},
  {"g":"Complement1QC","lx":2.52,"ly":5.63,"x1":-0.09,"y1":4.65,"x2":0.74,"y2":5.49},
  {"g":"CD14","lx":-1.78,"ly":4.33,"x1":-0.71,"y1":4.37,"x2":-1.14,"y2":4.37},
  {"g":"MS4A64","lx":2.12,"ly":4.30,"x1":0.46,"y1":4.22,"x2":1.20,"y2":4.22},
  {"g":"CD36","lx":-1.99,"ly":3.57,"x1":-0.40,"y1":4.00,"x2":-1.32,"y2":3.61},
  {"g":"HLA-DMB","lx":2.43,"ly":3.63,"x1":0.89,"y1":3.67,"x2":1.38,"y2":3.67},
  {"g":"HLA-DRA","lx":-2.38,"ly":2.62,"x1":-0.40,"y1":2.98,"x2":-1.41,"y2":2.74},
  {"g":"ADAMDEC1","lx":2.20,"ly":2.11,"x1":0.52,"y1":3.55,"x2":1.14,"y2":2.37},
  {"g":"CD53","lx":0.71,"ly":1.29,"x1":0.15,"y1":3.07,"x2":0.37,"y2":1.64},
  {"g":"ESM1","lx":0.72,"ly":-0.84,"x1":0.37,"y1":-2.54,"x2":0.37,"y2":-1.20},
  {"g":"ANGPT2","lx":2.17,"ly":-1.33,"x1":1.08,"y1":-2.54,"x2":1.41,"y2":-1.65},
  {"g":"COL8A1","lx":-1.32,"ly":-1.39,"x1":-0.03,"y1":-2.54,"x2":-0.74,"y2":-1.81},
  {"g":"CD34","lx":-2.11,"ly":-2.08,"x1":-0.52,"y1":-2.46,"x2":-1.41,"y2":-2.18},
  {"g":"EDN1","lx":-2.31,"ly":-2.81,"x1":-0.68,"y1":-2.81,"x2":-1.60,"y2":-2.81},
  {"g":"SOX18","lx":2.40,"ly":-2.95,"x1":0.71,"y1":-3.32,"x2":1.66,"y2":-2.93},
  {"g":"LAMA5","lx":-2.47,"ly":-3.56,"x1":-0.52,"y1":-3.24,"x2":-1.69,"y2":-3.44},
  {"g":"EFEMP1","lx":2.23,"ly":-3.75,"x1":0.65,"y1":-3.80,"x2":1.35,"y2":-3.85},
  {"g":"VE Cadherin","lx":-2.15,"ly":-4.46,"x1":0.0,"y1":-3.80,"x2":-0.92,"y2":-4.17},
  {"g":"CAV1","lx":1.89,"ly":-4.55,"x1":0.31,"y1":-4.37,"x2":1.29,"y2":-4.54}
 ],
 "E_bar":[{"lo":-2.15,"hi":-1.762,"c":"b"},{"lo":-1.762,"hi":-1.374,"c":"lb"},{"lo":-1.374,"hi":-0.986,"c":"c"},{"lo":-0.986,"hi":-0.598,"c":"g"},{"lo":-0.598,"hi":-0.21,"c":"y"},{"lo":-0.21,"hi":0.178,"c":"o"},{"lo":0.178,"hi":0.566,"c":"ro"},{"lo":0.566,"hi":0.954,"c":"r"}]
},
"concat":[
 {
  "width":313,"height":544,
  "title":{"text":"A","dx":-75,"dy":58},
  "layer":[
   {"data":{"name":"A_band"},"mark":{"type":"area","color":"#c4c4c4","interpolate":"monotone"},
    "encoding":{
     "x":{"field":"x","type":"quantitative","scale":{"domain":[1.81,4.555],"nice":false,"zero":false},"axis":{"values":[2,2.5,3,3.5,4,4.5],"format":".1f","domain":false,"ticks":false,"labelFontSize":15,"labelPadding":5,"title":"Log intensity","titleFontSize":16,"titlePadding":1,"labelFlush":false}},
     "y":{"field":"hi","type":"quantitative","scale":{"domain":[-2.36,2.45],"nice":false,"zero":false},"axis":{"values":[-2,-1.5,-1,-0.5,0,0.5,1,1.5,2],"labelExpr":"datum.value == 0 ? '0' : (datum.value < 0 ? '-' : '') + format(abs(datum.value), '.1f')","domainColor":"#000","domainWidth":2.5,"tickSize":3,"tickColor":"#000","labelFontSize":15,"labelPadding":2,"title":"Log ratio (eEPC vs. eEPC)","titleFontSize":16,"titlePadding":6}},
     "y2":{"field":"lo"}}},
   {"data":{"name":"A_pts"},"transform":[{"filter":"datum.t == 'g'"}],"mark":{"type":"circle","color":"#c4c4c4","size":14,"opacity":1},
    "encoding":{"x":{"field":"x","type":"quantitative"},"y":{"field":"y","type":"quantitative"}}},
   {"data":{"values":[{}]},"mark":{"type":"rule","color":"#222","strokeWidth":1},"encoding":{"x":{"datum":1.81,"type":"quantitative"},"x2":{"datum":4.555},"y":{"datum":0,"type":"quantitative"}}},
   {"data":{"values":[{}]},"mark":{"type":"rule","color":"#000","strokeWidth":2.5},"encoding":{"x":{"datum":1.81,"type":"quantitative"},"x2":{"datum":4.555},"y":{"datum":-2.36,"type":"quantitative"}}},
   {"data":{"name":"A_pts"},"transform":[{"filter":"datum.t != 'g'"}],"mark":{"type":"circle","size":20,"opacity":1},
    "encoding":{"x":{"field":"x","type":"quantitative"},"y":{"field":"y","type":"quantitative"},"color":{"field":"t","type":"nominal","scale":{"domain":["u","d","uf","df"],"range":["#8b1a1a","#2f8a2f","#e23a3a","#5ad85a"]},"legend":null}}},
   {"data":{"values":[{}]},"mark":{"type":"text","fontSize":31,"color":"#f21d1d"},"encoding":{"x":{"datum":3.03,"type":"quantitative"},"y":{"datum":1.425,"type":"quantitative"},"text":{"value":"17"}}},
   {"data":{"values":[{}]},"mark":{"type":"text","fontSize":31,"color":"#22ee44"},"encoding":{"x":{"datum":3.03,"type":"quantitative"},"y":{"datum":-1.534,"type":"quantitative"},"text":{"value":"10"}}}
  ]
 },
 {
  "width":332,"height":544,
  "title":{"text":"B","dx":-72,"dy":58},
  "layer":[
   {"data":{"name":"B_band"},"mark":{"type":"area","color":"#c4c4c4","interpolate":"monotone"},
    "encoding":{
     "x":{"field":"x","type":"quantitative","scale":{"domain":[1.81,4.722],"nice":false,"zero":false},"axis":{"values":[2,2.5,3,3.5,4,4.5],"format":".1f","domain":false,"ticks":false,"labelFontSize":15,"labelPadding":5,"title":"Log intensity","titleFontSize":16,"titlePadding":1,"titleX":157,"labelFlush":false}},
     "y":{"field":"hi","type":"quantitative","scale":{"domain":[-2.36,2.45],"nice":false,"zero":false},"axis":{"values":[-2,-1.5,-1,-0.5,0,0.5,1,1.5,2],"labelExpr":"datum.value == 0 ? '0' : (datum.value < 0 ? '-' : '') + format(abs(datum.value), '.1f')","domainColor":"#000","domainWidth":2.5,"tickSize":3,"tickColor":"#000","labelFontSize":15,"labelPadding":2,"title":"Log ratio (OEC vs. OEC)","titleFontSize":16,"titlePadding":6}},
     "y2":{"field":"lo"}}},
   {"data":{"name":"B_pts"},"transform":[{"filter":"datum.t == 'g'"}],"mark":{"type":"circle","color":"#c4c4c4","size":14,"opacity":1},
    "encoding":{"x":{"field":"x","type":"quantitative"},"y":{"field":"y","type":"quantitative"}}},
   {"data":{"values":[{}]},"mark":{"type":"rule","color":"#222","strokeWidth":1},"encoding":{"x":{"datum":1.81,"type":"quantitative"},"x2":{"datum":4.57},"y":{"datum":0,"type":"quantitative"}}},
   {"data":{"values":[{}]},"mark":{"type":"rule","color":"#000","strokeWidth":2.5},"encoding":{"x":{"datum":1.81,"type":"quantitative"},"x2":{"datum":4.57},"y":{"datum":-2.36,"type":"quantitative"}}},
   {"data":{"name":"B_pts"},"transform":[{"filter":"datum.t != 'g'"}],"mark":{"type":"circle","size":20,"opacity":1},
    "encoding":{"x":{"field":"x","type":"quantitative"},"y":{"field":"y","type":"quantitative"},"color":{"field":"t","type":"nominal","scale":{"domain":["u","d","uf","df"],"range":["#8b1a1a","#2f8a2f","#e23a3a","#5ad85a"]},"legend":null}}},
   {"data":{"values":[{}]},"mark":{"type":"text","fontSize":31,"color":"#f21d1d"},"encoding":{"x":{"datum":3.126,"type":"quantitative"},"y":{"datum":1.425,"type":"quantitative"},"text":{"value":"25"}}},
   {"data":{"values":[{}]},"mark":{"type":"text","fontSize":31,"color":"#22ee44"},"encoding":{"x":{"datum":3.126,"type":"quantitative"},"y":{"datum":-1.534,"type":"quantitative"},"text":{"value":"22"}}}
  ]
 },
 {
  "width":314,"height":544,
  "title":{"text":"C","dx":-70,"dy":63},
  "layer":[
   {"data":{"name":"C_band"},"mark":{"type":"area","color":"#c6c6c6"},
    "encoding":{
     "x":{"field":"x","type":"quantitative","scale":{"domain":[1.82,4.575],"nice":false,"zero":false},"axis":{"values":[2,2.5,3,3.5,4,4.5],"format":".1f","domain":false,"ticks":false,"labelFontSize":15,"labelPadding":5,"title":"Log intensity","titleFontSize":16,"titlePadding":1,"labelFlush":false}},
     "y":{"field":"hi","type":"quantitative","scale":{"domain":[-2.36,2.45],"nice":false,"zero":false},"axis":{"values":[-2,-1.5,-1,-0.5,0,0.5,1,1.5,2],"labelExpr":"datum.value == 0 ? '0' : (datum.value < 0 ? '-' : '') + format(abs(datum.value), '.1f')","domainColor":"#000","domainWidth":2.5,"tickSize":3,"tickColor":"#000","labelFontSize":15,"labelPadding":2,"title":"Log ratio (eEPC vs. OEC)","titleFontSize":16,"titlePadding":6}},
     "y2":{"field":"lo"}}},
   {"data":{"name":"C_up"},"mark":{"type":"area","color":"#931313","interpolate":"monotone"},
    "encoding":{"x":{"field":"x","type":"quantitative"},"y":{"field":"hi","type":"quantitative"},"y2":{"field":"lo"}}},
   {"data":{"name":"C_dn"},"mark":{"type":"area","color":"#2b962b","interpolate":"monotone"},
    "encoding":{"x":{"field":"x","type":"quantitative"},"y":{"field":"hi","type":"quantitative"},"y2":{"field":"lo"}}},
   {"data":{"values":[{}]},"mark":{"type":"rule","color":"#222","strokeWidth":1},"encoding":{"x":{"datum":1.82,"type":"quantitative"},"x2":{"datum":4.575},"y":{"datum":0,"type":"quantitative"}}},
   {"data":{"values":[{}]},"mark":{"type":"rule","color":"#000","strokeWidth":2.5},"encoding":{"x":{"datum":1.82,"type":"quantitative"},"x2":{"datum":4.575},"y":{"datum":-2.36,"type":"quantitative"}}},
   {"data":{"name":"C_pts"},"transform":[{"filter":"datum.t == 'uf' || datum.t == 'df'"}],"mark":{"type":"circle","size":14,"opacity":1},
    "encoding":{"x":{"field":"x","type":"quantitative"},"y":{"field":"y","type":"quantitative"},"color":{"field":"t","type":"nominal","scale":{"domain":["u","d","uf","df"],"range":["#b01717","#38b238","#ee3030","#55dd55"]},"legend":null}}},
   {"data":{"name":"C_pts"},"transform":[{"filter":"datum.t == 'u' || datum.t == 'd'"}],"mark":{"type":"circle","size":34,"opacity":1,"stroke":"#1a0d0d","strokeWidth":0.8},
    "encoding":{"x":{"field":"x","type":"quantitative"},"y":{"field":"y","type":"quantitative"},"color":{"field":"t","type":"nominal","legend":null}}},
   {"data":{"values":[{}]},"mark":{"type":"text","fontSize":31,"color":"#f21d1d"},"encoding":{"x":{"datum":3.995,"type":"quantitative"},"y":{"datum":1.425,"type":"quantitative"},"text":{"value":"2560"}}},
   {"data":{"values":[{}]},"mark":{"type":"text","fontSize":31,"color":"#22ee44"},"encoding":{"x":{"datum":3.995,"type":"quantitative"},"y":{"datum":-1.534,"type":"quantitative"},"text":{"value":"2674"}}}
  ]
 },
 {
  "width":313,"height":432,
  "title":{"text":"D","dx":-75,"dy":48},
  "layer":[
   {"data":{"values":[{}]},"mark":{"type":"rule","color":"#000","strokeWidth":2.5},"encoding":{"x":{"datum":-0.8,"type":"quantitative","scale":{"domain":[-0.761,0.458],"nice":false,"zero":false},"axis":null},"y":{"datum":-1,"type":"quantitative","scale":{"domain":[-1.034,1.07],"nice":false,"zero":false},"axis":null},"y2":{"datum":1.036}}},
   {"data":{"values":[{}]},"mark":{"type":"rule","color":"#000","strokeWidth":2.5},"encoding":{"x":{"datum":-0.8,"type":"quantitative"},"x2":{"datum":1.0},"y":{"datum":-1,"type":"quantitative"}}},
   {"data":{"values":[{}]},"mark":{"type":"rule","color":"#111","strokeWidth":1.3},"encoding":{"x":{"datum":0,"type":"quantitative"},"y":{"datum":-1,"type":"quantitative"},"y2":{"datum":1.03}}},
   {"data":{"values":[{}]},"mark":{"type":"rule","color":"#111","strokeWidth":1.3},"encoding":{"x":{"datum":-0.8,"type":"quantitative"},"x2":{"datum":1.0},"y":{"datum":0,"type":"quantitative"}}},
   {"data":{"name":"D_pts"},"mark":{"type":"square","size":64,"fill":"#1fdc1f","stroke":"#2d5e2d","strokeWidth":1,"opacity":1,"filled":true},
    "encoding":{"x":{"field":"x","type":"quantitative"},"y":{"field":"y","type":"quantitative"}}},
   {"data":{"name":"D_pts"},"mark":{"type":"text","align":"left","baseline":"alphabetic","dx":-14,"dy":23,"font":"Liberation Sans","fontSize":20.5,"color":"#111"},
    "encoding":{"x":{"field":"x","type":"quantitative"},"y":{"field":"y","type":"quantitative"},"text":{"field":"s"}}},
   {"data":{"values":[{}]},"mark":{"type":"text","font":"Liberation Sans","fontSize":13,"color":"#333"},"encoding":{"x":{"datum":-0.773,"type":"quantitative"},"y":{"datum":1.085,"type":"quantitative"},"text":{"value":"PC1"}}},
   {"data":{"values":[{}]},"mark":{"type":"text","font":"Liberation Sans","fontSize":13,"color":"#333"},"encoding":{"x":{"datum":0.871,"type":"quantitative"},"y":{"datum":-1.063,"type":"quantitative"},"text":{"value":"PC3"}}}
  ]
 },
 {
  "width":332,"height":432,
  "title":{"text":"E","dx":157,"dy":66},
  "layer":[
   {"data":{"values":[{}]},"mark":{"type":"rule","color":"#000","strokeWidth":2.5},"encoding":{"x":{"datum":-5,"type":"quantitative","scale":{"domain":[-9.029,-2.948],"nice":false,"zero":false},"axis":null},"y":{"datum":-5,"type":"quantitative","scale":{"domain":[-5,5.38],"nice":false,"zero":false},"axis":null},"y2":{"datum":5.38}}},
   {"data":{"values":[{}]},"mark":{"type":"rule","color":"#000","strokeWidth":2.5},"encoding":{"x":{"datum":-5,"type":"quantitative"},"x2":{"datum":2.95},"y":{"datum":-5,"type":"quantitative"}}},
   {"data":{"values":[{}]},"mark":{"type":"rule","color":"#111","strokeWidth":1.3},"encoding":{"x":{"datum":0,"type":"quantitative"},"y":{"datum":-5,"type":"quantitative"},"y2":{"datum":5.38}}},
   {"data":{"values":[{}]},"mark":{"type":"rule","color":"#111","strokeWidth":1.3},"encoding":{"x":{"datum":-5,"type":"quantitative"},"x2":{"datum":2.95},"y":{"datum":0,"type":"quantitative"}}},
   {"data":{"name":"E_genes"},"mark":{"type":"rule","color":"#8fc3ee","strokeWidth":1.2},
    "encoding":{"x":{"field":"x1","type":"quantitative"},"y":{"field":"y1","type":"quantitative"},"x2":{"field":"x2"},"y2":{"field":"y2"}}},
   {"data":{"name":"E_genes"},"transform":[{"calculate":"atan2((datum.x2-datum.x1)*54.6,(datum.y2-datum.y1)*41.6)*180/PI","as":"ang"}],
    "mark":{"type":"point","shape":"triangle-up","filled":true,"size":22,"color":"#8fc3ee","opacity":1},
    "encoding":{"x":{"field":"x2","type":"quantitative"},"y":{"field":"y2","type":"quantitative"},"angle":{"field":"ang","type":"quantitative","scale":null}}},
   {"data":{"name":"E_pts"},"mark":{"type":"circle","size":40,"opacity":1,"stroke":"#1a1a1a","strokeWidth":1},
    "encoding":{"x":{"field":"x","type":"quantitative"},"y":{"field":"y","type":"quantitative"},"color":{"field":"c","type":"nominal","scale":{"domain":["b","lb","c","g","y","o","ro","r"],"range":["#3b4bcf","#a4bdee","#46e2ea","#8fd42e","#e6e622","#fbb417","#fa5517","#fa1e10"]},"legend":null}}},
   {"data":{"name":"E_genes"},"mark":{"type":"text","fontSize":20.5,"color":"#111"},
    "encoding":{"x":{"field":"lx","type":"quantitative"},"y":{"field":"ly","type":"quantitative"},"text":{"field":"g"}}},
   {"data":{"name":"E_bar"},"mark":{"type":"rect","opacity":1},
    "encoding":{"x":{"field":"lo","type":"quantitative"},"x2":{"field":"hi"},"y":{"datum":-5.26,"type":"quantitative"},"y2":{"datum":-5.75},"color":{"field":"c","type":"nominal","legend":null}}},
   {"data":{"values":[{}]},"mark":{"type":"rule","color":"#111","strokeWidth":1.3},"encoding":{"x":{"datum":-2.1,"type":"quantitative"},"x2":{"datum":0.9},"y":{"datum":-5.91,"type":"quantitative"}}},
   {"data":{"values":[{}]},"mark":{"type":"point","shape":"triangle-left","filled":true,"size":22,"color":"#111","opacity":1},"encoding":{"x":{"datum":-2.1,"type":"quantitative"},"y":{"datum":-5.91,"type":"quantitative"}}},
   {"data":{"values":[{}]},"mark":{"type":"point","shape":"triangle-right","filled":true,"size":22,"color":"#111","opacity":1},"encoding":{"x":{"datum":0.9,"type":"quantitative"},"y":{"datum":-5.91,"type":"quantitative"}}},
   {"data":{"values":[{}]},"mark":{"type":"text","fontSize":16,"color":"#111"},"encoding":{"x":{"datum":-0.58,"type":"quantitative"},"y":{"datum":-6.27,"type":"quantitative"},"text":{"value":"Average expression"}}},
   {"data":{"values":[{}]},"mark":{"type":"text","font":"Liberation Sans","fontSize":13,"color":"#333"},"encoding":{"x":{"datum":-4.87,"type":"quantitative"},"y":{"datum":5.65,"type":"quantitative"},"text":{"value":"PC1"}}},
   {"data":{"values":[{}]},"mark":{"type":"text","font":"Liberation Sans","fontSize":13,"color":"#333"},"encoding":{"x":{"datum":2.39,"type":"quantitative"},"y":{"datum":-5.31,"type":"quantitative"},"text":{"value":"PC3"}}}
  ]
 }
],
"columns":3,
"bounds":"flush",
"spacing":{"row":85,"column":66},
"resolve":{"scale":{"color":"independent"}}
}
